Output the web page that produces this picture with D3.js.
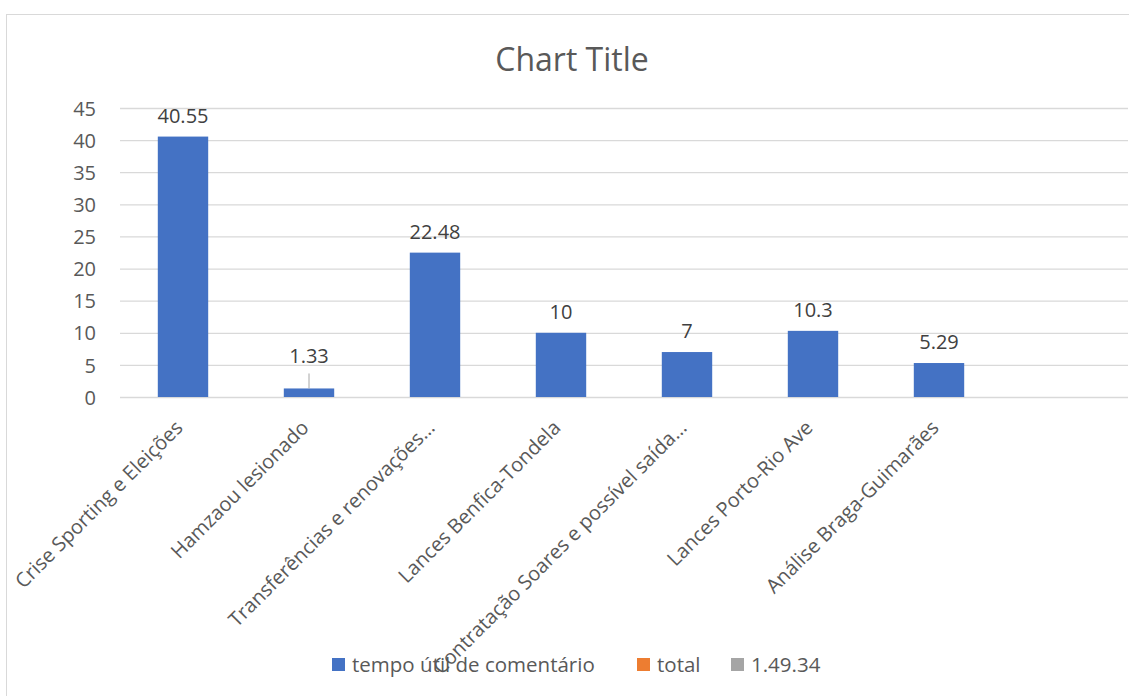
<!DOCTYPE html>
<html><head><meta charset="utf-8">
<script src="https://cdn.jsdelivr.net/npm/d3@7"></script>
<style>body{margin:0;background:#fff;overflow:hidden}text{font-family:"Open Sans",sans-serif}</style>
</head><body>
<svg id="c" width="1129" height="696"></svg>
<script>
const categories = ["Crise Sporting e Eleições","Hamzaou lesionado","Transferências e renovações…","Lances Benfica-Tondela","Contratação Soares e possível saída…","Lances Porto-Rio Ave","Análise Braga-Guimarães",""];
const tempoUtil = [40.55,1.33,22.48,10,7,10.3,5.29,null];
const seriesNames = ["tempo útil de comentário","total","1.49.34"];
const seriesColors = ["#4472c4","#ed7d31","#a5a5a5"];
const yTicks = [0,5,10,15,20,25,30,35,40,45];

const svg = d3.select("#c");
svg.append("rect").attr("x",6.5).attr("y",14.5).attr("width",1132).attr("height",700)
  .attr("fill","#fff").attr("stroke","#d9d9d9");

const x = d3.scaleBand().domain(categories.map((d,i)=>i)).range([120,1128]).paddingInner(0.6).paddingOuter(0.3);
const y = d3.scaleLinear().domain([0,45]).range([397,108]);

svg.append("text").attr("x",572).attr("y",71).attr("text-anchor","middle")
  .attr("font-size",32).attr("fill","#595959").text("Chart Title");

const yAxis = d3.axisLeft(y).tickValues(yTicks).tickSize(-(1128-120)).tickFormat(d3.format("d"));
const ga = svg.append("g").attr("transform","translate(120,0)").call(yAxis);
ga.select(".domain").remove();
ga.selectAll(".tick line").attr("stroke","#d9d9d9").attr("stroke-width",1.3);
ga.selectAll(".tick text").attr("x",-24).attr("dy","0.36em").attr("fill","#595959").attr("font-size",20);

const data = tempoUtil.map((v,i)=>({i,v})).filter(d=>d.v!=null);
svg.selectAll("rect.bar").data(data).enter().append("rect").attr("class","bar")
  .attr("x",d=>x(d.i)).attr("width",x.bandwidth())
  .attr("y",d=>y(d.v)).attr("height",d=>y(0)-y(d.v)).attr("fill","#4472c4");

svg.selectAll("text.lbl").data(data).enter().append("text").attr("class","lbl")
  .attr("x",d=>x(d.i)+x.bandwidth()/2)
  .attr("y",d=> d.i===1 ? y(d.v)-25 : y(d.v)-14)
  .attr("text-anchor","middle").attr("font-size",20).attr("fill","#404040")
  .text(d=>d3.format("")(d.v));
// leader line for small label
data.filter(d=>d.i===1).forEach(d=>{
  const cx = x(d.i)+x.bandwidth()/2;
  svg.append("line").attr("x1",cx).attr("x2",cx).attr("y1",y(d.v)-15).attr("y2",y(d.v))
    .attr("stroke","#a6a6a6").attr("stroke-width",1);
});

const gx = svg.append("g");
gx.selectAll("text").data(categories.map((c,i)=>({c,i}))).enter().append("text")
  .attr("transform",d=>`translate(${x(d.i)+x.bandwidth()/2-4},${424}) rotate(-45)`)
  .attr("text-anchor","end").attr("dy","0.35em").attr("font-size",20).attr("fill","#595959")
  .text(d=>d.c);

// legend
const legX = [332,637,731];
const lg = svg.append("g");
seriesNames.forEach((n,i)=>{
  lg.append("rect").attr("x",legX[i]).attr("y",658).attr("width",13).attr("height",13).attr("fill",seriesColors[i]);
  lg.append("text").attr("x",legX[i]+20).attr("y",664.5).attr("dy","0.36em").attr("font-size",20.5).attr("fill","#595959").text(n);
});
</script>
</body></html>
